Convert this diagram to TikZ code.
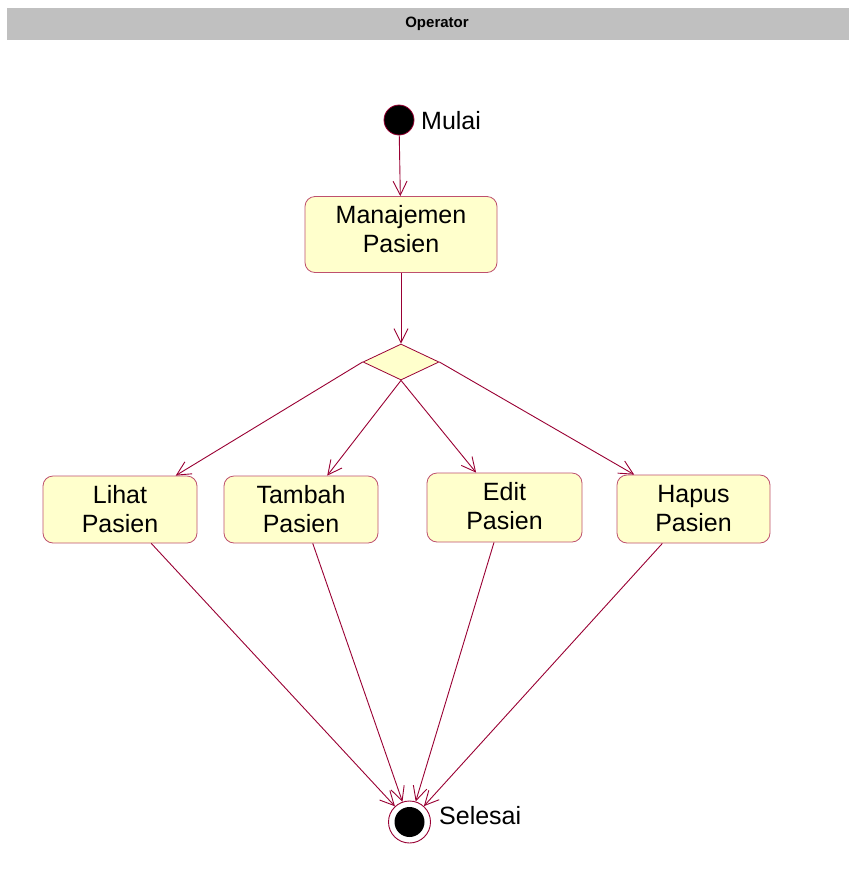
\documentclass[tikz,border=0pt]{standalone}
\usepackage{fontspec}
\setmainfont{Liberation Sans}
\usetikzlibrary{arrows.meta,shapes.geometric}
\definecolor{flow}{RGB}{153,0,51}
\definecolor{actborder}{RGB}{190,80,110}
\definecolor{actfill}{RGB}{255,255,204}
\definecolor{lane}{RGB}{192,192,192}
\begin{document}
\begin{tikzpicture}[x=1pt,y=-1pt,
  activity/.style={draw=actborder,line width=0.8pt,fill=actfill,rounded corners=10pt,
    align=center,inner sep=0pt,font=\fontsize{25}{29}\selectfont},
  flowline/.style={draw=flow,line width=0.9pt},
  flowarrow/.style={flowline,-{Straight Barb[length=14pt,width=14pt,line width=0.9pt]}},
  caption/.style={font=\fontsize{25}{29}\selectfont,anchor=west,inner sep=0pt}]
  \useasboundingbox (0,0) rectangle (849,895);
  % swimlane header
  \fill[lane] (7,8) rectangle (849,40);
  \node[font=\bfseries\fontsize{15}{17}\selectfont] (lanetitle) at (437,24) {Operator};
  % start state
  \node[circle,fill=black,draw=flow,line width=0.8pt,minimum size=30pt,inner sep=0pt] (start) at (399,120) {};
  \node[caption] (startlbl) at (421,121) {Mulai};
  % activities
  \node[activity,minimum width=192pt,minimum height=76pt,text depth=11pt] (manajemen) at (401,234.5) {Manajemen\\Pasien};
  \node[diamond,draw=flow,line width=0.8pt,fill=actfill,inner sep=0pt,minimum width=76pt,minimum height=36pt] (dia) at (401,362) {};
  \node[activity,minimum width=154pt,minimum height=67pt] (lihat) at (120,509.5) {Lihat\\Pasien};
  \node[activity,minimum width=154pt,minimum height=67pt] (tambah) at (301,509.5) {Tambah\\Pasien};
  \node[activity,minimum width=155pt,minimum height=69pt,text depth=3pt] (edit) at (504.5,507.5) {Edit\\Pasien};
  \node[activity,minimum width=153pt,minimum height=68pt] (hapus) at (693.5,509) {Hapus\\Pasien};
  % end state
  \node[circle,fill=white,draw=flow,line width=0.9pt,minimum size=42pt,inner sep=0pt] (finish) at (409.5,822) {};
  \fill[black] (finish.center) circle (15pt);
  \node[caption] (finishlbl) at (439,816) {Selesai};
  % transitions
  \draw[flowarrow] (start) -- (manajemen);
  \draw[flowarrow] (manajemen) -- (dia.north);
  \draw[flowarrow] (dia.west) -- (lihat);
  \draw[flowarrow] (dia.south) -- (tambah);
  \draw[flowarrow] (dia.south) -- (edit);
  \draw[flowarrow] (dia.east) -- (hapus);
  \draw[flowarrow] (lihat) -- (finish);
  \draw[flowarrow] (tambah) -- (finish);
  \draw[flowarrow] (edit) -- (finish);
  \draw[flowarrow] (hapus) -- (finish);
\end{tikzpicture}
\end{document}
